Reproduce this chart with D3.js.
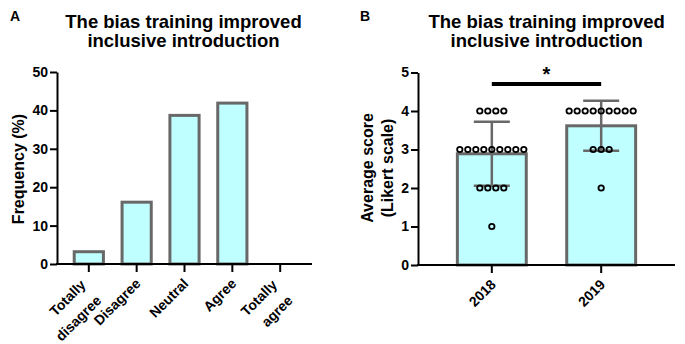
<!DOCTYPE html>
<html>
<head>
<meta charset="utf-8">
<script src="https://cdn.jsdelivr.net/npm/d3@7.9.0/dist/d3.min.js"></script>
<style>
  body { margin: 0; background: #fff; }
  svg { display: block; font-family: Arial, "Liberation Sans", sans-serif; font-weight: bold; }
  .axis path, .axis line { stroke: #000; stroke-width: 2; }
  .axis text { fill: #000; font-size: 14px; font-weight: bold; font-family: Arial, "Liberation Sans", sans-serif; }
</style>
</head>
<body>
<svg id="fig" width="685" height="344"></svg>
<script>
// panel A: response distribution (% of 31 respondents)
const likertLabels = [["Totally", "disagree"], ["Disagree"], ["Neutral"], ["Agree"], ["Totally", "agree"]];
const likertKeys = likertLabels.map(l => l.join(' '));
const freqPct = [3.2, 16.1, 38.7, 41.9, 0];
const freqTicks = [0, 10, 20, 30, 40, 50];

// panel B: individual Likert scores per year
const years = ["2018", "2019"];
const scores2018 = [4, 4, 4, 4, 3, 3, 3, 3, 3, 3, 3, 3, 3, 2, 2, 2, 2, 1];
const scores2019 = [4, 4, 4, 4, 4, 4, 4, 4, 4, 3, 3, 3, 2];
const scoreTicks = [0, 1, 2, 3, 4, 5];
const sigLevel = 4.7;

const titleLines = ["The bias training improved", "inclusive introduction"];

const BAR_FILL = '#bfffff';
const BAR_STROKE = '#686868';

const svg = d3.select('#fig');

// swap the axis' tick text for -45° labels (one text per line, rotated group)
function rotatedLabels(axisG, labelsFor) {
  axisG.selectAll('.tick').each(function(d) {
    const tick = d3.select(this);
    tick.select('text').remove();
    const lines = labelsFor(d);
    const g = tick.append('g').attr('transform', 'rotate(-45)');
    lines.forEach((ln, i) => {
      const v = lines.length === 1 ? 13 : (i === 0 ? 9 : 31);
      const u = lines.length === 1 ? -11 : -17;
      g.append('text')
        .attr('x', u).attr('y', v).attr('dy', '0.35em')
        .attr('text-anchor', 'end')
        .text(ln);
    });
  });
}

function drawTitle(cx, letter, lx) {
  svg.append('text').attr('x', lx).attr('y', 20.5)
    .style('font-size', '14px').text(letter);
  svg.append('g').selectAll('text').data(titleLines).join('text')
    .attr('x', cx).attr('y', (d, i) => 27.5 + i * 19.5)
    .attr('text-anchor', 'middle')
    .style('font-size', '18.5px')
    .text(d => d);
}

// ───── Panel A ─────
{
  const x = d3.scaleBand().domain(likertKeys).range([57, 312])
    .paddingInner(0.39).paddingOuter(0.36);
  const y = d3.scaleLinear().domain([0, 50]).range([264, 72]);

  svg.append('g').selectAll('rect')
    .data(freqPct.map((v, i) => ({ k: likertKeys[i], v })).filter(d => d.v > 0))
    .join('rect')
      .attr('x', d => x(d.k))
      .attr('width', x.bandwidth())
      .attr('y', d => y(d.v))
      .attr('height', d => y(0) - y(d.v))
      .attr('fill', BAR_FILL)
      .attr('stroke', BAR_STROKE)
      .attr('stroke-width', 3);

  const gx = svg.append('g').attr('class', 'axis')
    .attr('transform', `translate(0,${y(0)})`)
    .call(d3.axisBottom(x).tickSize(8).tickSizeOuter(0));
  gx.select('.domain').attr('d', `M56,0H312`);
  rotatedLabels(gx, d => likertLabels[likertKeys.indexOf(d)]);

  svg.append('g').attr('class', 'axis')
    .attr('transform', 'translate(57,0)')
    .call(d3.axisLeft(y).tickValues(freqTicks).tickFormat(d3.format('d'))
      .tickSize(7).tickPadding(2).tickSizeOuter(0));

  svg.append('text')
    .attr('transform', `translate(18,169) rotate(-90)`)
    .attr('text-anchor', 'middle').attr('dy', '0.35em')
    .style('font-size', '16px')
    .text('Frequency (%)');

  drawTitle(183.5, 'A', 10);
}

// ───── Panel B ─────
{
  const groups = [scores2018, scores2019].map((s, i) => ({
    year: years[i],
    scores: s,
    mean: d3.mean(s),
    sd: d3.deviation(s)
  }));

  const x = d3.scaleBand().domain(years).range([418, 675])
    .paddingInner(0.37).paddingOuter(0.36);
  const y = d3.scaleLinear().domain([0, 5]).range([265, 72.5]);
  const cx = d => x(d) + x.bandwidth() / 2;

  svg.append('g').selectAll('rect').data(groups).join('rect')
    .attr('x', d => x(d.year))
    .attr('width', x.bandwidth())
    .attr('y', d => y(d.mean))
    .attr('height', d => y(0) - y(d.mean))
    .attr('fill', BAR_FILL)
    .attr('stroke', BAR_STROKE)
    .attr('stroke-width', 3);

  // mean ± SD whiskers
  const err = svg.append('g').attr('stroke', BAR_STROKE).attr('stroke-width', 2.5);
  groups.forEach(g => {
    const c = cx(g.year), lo = y(g.mean - g.sd), hi = y(g.mean + g.sd);
    err.append('line').attr('x1', c).attr('x2', c).attr('y1', lo).attr('y2', hi);
    [lo, hi].forEach(yy => err.append('line')
      .attr('x1', c - 18).attr('x2', c + 18).attr('y1', yy).attr('y2', yy));
  });

  // individual responses, spread horizontally within each score level
  const step = 8;
  const dots = [];
  groups.forEach(g => {
    d3.groups(g.scores, s => s).forEach(([score, arr]) => {
      arr.forEach((s, j) => dots.push({
        x: cx(g.year) + (j - (arr.length - 1) / 2) * step,
        v: score
      }));
    });
  });
  svg.append('g').selectAll('circle').data(dots).join('circle')
    .attr('cx', d => d.x)
    .attr('cy', d => y(d.v))
    .attr('r', 2.7)
    .attr('fill', 'none')
    .attr('stroke', '#000')
    .attr('stroke-width', 1.8);

  const gx = svg.append('g').attr('class', 'axis')
    .attr('transform', `translate(0,${y(0)})`)
    .call(d3.axisBottom(x).tickSize(8).tickSizeOuter(0));
  gx.select('.domain').attr('d', `M417,0H675`);
  rotatedLabels(gx, d => [d]);

  svg.append('g').attr('class', 'axis')
    .attr('transform', 'translate(418,0)')
    .call(d3.axisLeft(y).tickValues(scoreTicks).tickFormat(d3.format('d'))
      .tickSize(7).tickPadding(2).tickSizeOuter(0));

  // significance bracket
  svg.append('line')
    .attr('x1', cx(years[0])).attr('x2', cx(years[1]))
    .attr('y1', y(sigLevel)).attr('y2', y(sigLevel))
    .attr('stroke', '#000').attr('stroke-width', 4);
  svg.append('text')
    .attr('x', (cx(years[0]) + cx(years[1])) / 2)
    .attr('y', y(sigLevel) - 3)
    .attr('text-anchor', 'middle')
    .style('font-size', '20px')
    .text('*');

  svg.append('g').selectAll('text').data(['Average score', '(Likert scale)']).join('text')
    .attr('transform', (d, i) => `translate(${367 + i * 20},168) rotate(-90)`)
    .attr('text-anchor', 'middle').attr('dy', '0.35em')
    .style('font-size', '16px')
    .text(d => d);

  drawTitle(546.7, 'B', 360);
}
</script>
</body>
</html>
